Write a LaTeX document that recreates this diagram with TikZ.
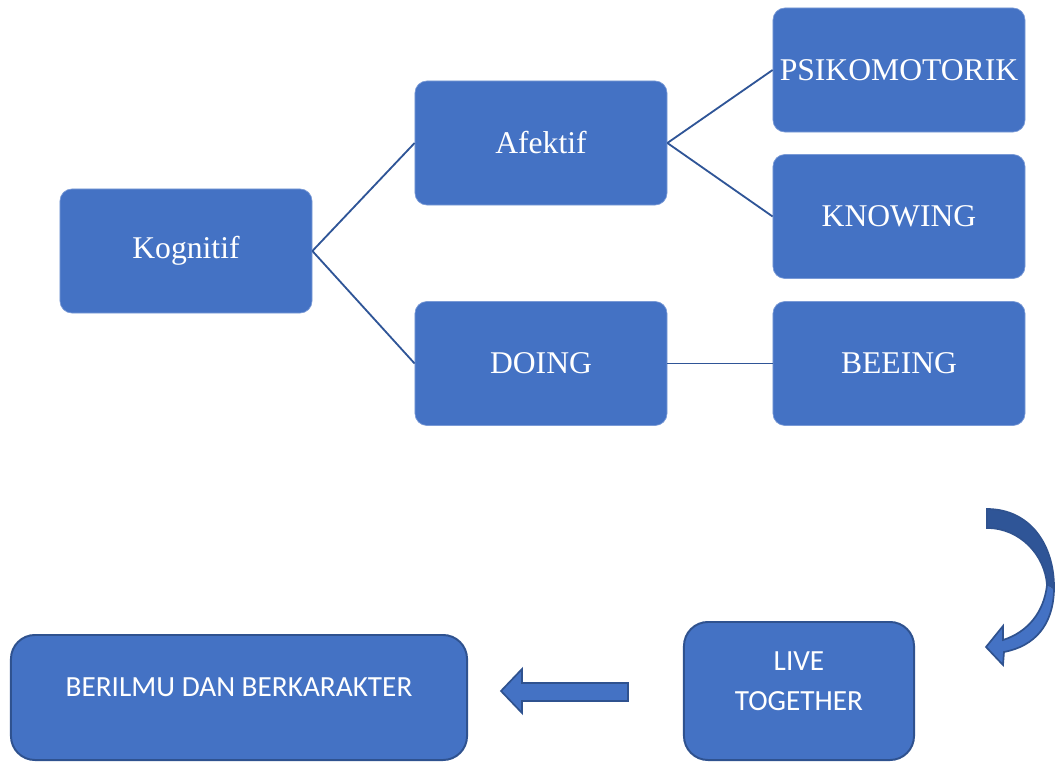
\documentclass[tikz,border=0pt]{standalone}
\usepackage{fontspec}
\setmainfont{Liberation Serif}
\newfontfamily\calibrilike{Carlito}
\usetikzlibrary{positioning}

\definecolor{boxblue}{HTML}{4472C4}
\definecolor{lineblue}{HTML}{2F5597}
\definecolor{edgeblue}{HTML}{2F528F}
\definecolor{lightedge}{HTML}{7A9AD6}

\begin{document}
\begin{tikzpicture}[x=0.025cm, y=-0.025cm,
  topbox/.style={draw=lightedge, line width=0.5pt, fill=boxblue, rounded corners=0.3cm,
    minimum width=6.3cm, minimum height=3.1cm, text=white, inner sep=0pt,
    font=\fontsize{22.5}{27}\selectfont},
  lowbox/.style={draw=edgeblue, line width=1.4pt, fill=boxblue, rounded corners=0.6cm,
    text=white, align=center, text depth=0.5cm,
    font=\calibrilike\fontsize{20.8}{28}\selectfont},
  link/.style={draw=lineblue, line width=1.3pt},
  blockarrow/.style={fill=boxblue, draw=edgeblue, line width=1.2pt, line join=miter}]
\useasboundingbox (0,0) rectangle (1055,762);

% tree
\node[topbox] (kog) at (186,251) {Kognitif};
\node[topbox] (afe) at (541,143) {Afektif};
\node[topbox] (doi) at (541,363.5) {DOING};
\node[topbox] (psi) at (899,70) {PSIKOMOTORIK};
\node[topbox] (kno) at (899,216.5) {KNOWING};
\node[topbox] (bee) at (899,363.5) {BEEING};

\foreach \a/\b in {kog/afe,kog/doi,afe/psi,afe/kno,doi/bee}{
  \draw[link] (\a.east) -- (\b.west);
}

% bottom row
\node[lowbox, minimum width=5.75cm, minimum height=3.45cm] (live) at (799,691) {LIVE\\TOGETHER};
\node[lowbox, minimum width=11.4cm, minimum height=3.125cm] (ilmu) at (239,697.5) {BERILMU DAN BERKARAKTER};

% arrow to the left
\draw[blockarrow] (628,683) -- (522,683) -- (522,669) -- (501,691) -- (522,713) -- (522,701) -- (628,701) -- cycle;

% curved arrow
\fill[boxblue] (1054,590) .. controls (1053,625) and (1035,646) .. (1004,652)
  -- (1003,665) -- (986,647) -- (1003,626) -- (1003,640)
  .. controls (1028,632) and (1044,612) .. (1047,585) -- cycle;
\fill[lineblue] (987,509) .. controls (1030,509) and (1055,545) .. (1054,590)
  -- (1047,585) .. controls (1045,555) and (1020,528) .. (987,528) -- cycle;
\draw[edgeblue, line width=1.2pt, line join=miter] (987,509) .. controls (1030,509) and (1055,545) .. (1054,590)
  .. controls (1053,625) and (1035,646) .. (1004,652)
  -- (1003,665) -- (986,647) -- (1003,626) -- (1003,640)
  .. controls (1028,632) and (1044,612) .. (1047,585)
  .. controls (1045,555) and (1020,528) .. (987,528) -- cycle;
\end{tikzpicture}
\end{document}
